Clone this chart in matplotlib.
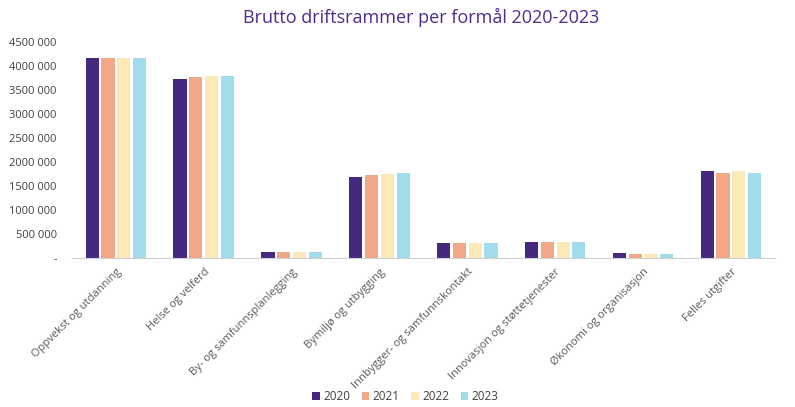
import numpy as np
import matplotlib
matplotlib.use("Agg")
import matplotlib.pyplot as plt

categories = ["Oppvekst og utdanning", "Helse og velferd", "By- og samfunnsplanlegging",
              "Bymiljø og utbygging", "Innbygger- og samfunnskontakt",
              "Innovasjon og støttetjenester", "Økonomi og organisasjon", "Felles utgifter"]
years = ["2020", "2021", "2022", "2023"]
v2020 = [4160000, 3735000, 128000, 1695000, 305000, 340000, 97000, 1805000]
v2021 = [4160000, 3760000, 130000, 1720000, 305000, 340000, 88000, 1780000]
v2022 = [4160000, 3780000, 128000, 1750000, 305000, 340000, 85000, 1805000]
v2023 = [4160000, 3790000, 130000, 1780000, 305000, 340000, 88000, 1780000]
colors = ["#47287f", "#f2a886", "#fbe9b7", "#a1dcec"]

plt.rcParams['font.family'] = ['Open Sans', 'DejaVu Sans']

fig = plt.figure(figsize=(7.95, 4.07), dpi=100)
ax = fig.add_axes([0.0906, 0.366, 0.884, 0.531])

x = np.arange(len(categories))
step = 0.18
for i, (vals, yr) in enumerate(zip([v2020, v2021, v2022, v2023], years)):
    ax.bar(x + (i - 1.5) * step, vals, width=0.15, color=colors[i], label=yr)

ax.set_xlim(-0.5, len(categories) - 0.5)
ax.set_ylim(0, 4500000)
ticks = np.arange(0, 4500001, 500000)
ylabels = ["-"] + [f"{t // 1000} 000" for t in ticks[1:]]
ax.set_yticks(ticks)
ax.set_yticklabels(ylabels, fontsize=8, color="#404040")
ax.set_xticks(x)
ax.set_xticklabels(categories, rotation=45, ha="right", rotation_mode="anchor",
                   fontsize=8, color="#595959")
ax.tick_params(axis="both", length=0)
ax.tick_params(axis="x", pad=6)
ax.tick_params(axis="y", pad=11)
for s in ["top", "right", "left"]:
    ax.spines[s].set_visible(False)
ax.spines["bottom"].set_color("#d0d0d0")

fig.text(0.53, 0.957, "Brutto driftsrammer per formål 2020-2023", ha="center", va="center",
         fontsize=13, color="#4b2c91")

fig.legend(loc="center", bbox_to_anchor=(0.51, 0.025), ncol=4, frameon=False,
           fontsize=8.5, handlelength=0.6, handleheight=0.6, handletextpad=0.3,
           columnspacing=1.0, labelcolor="#404040")

fig.savefig("out.png", dpi=100)
